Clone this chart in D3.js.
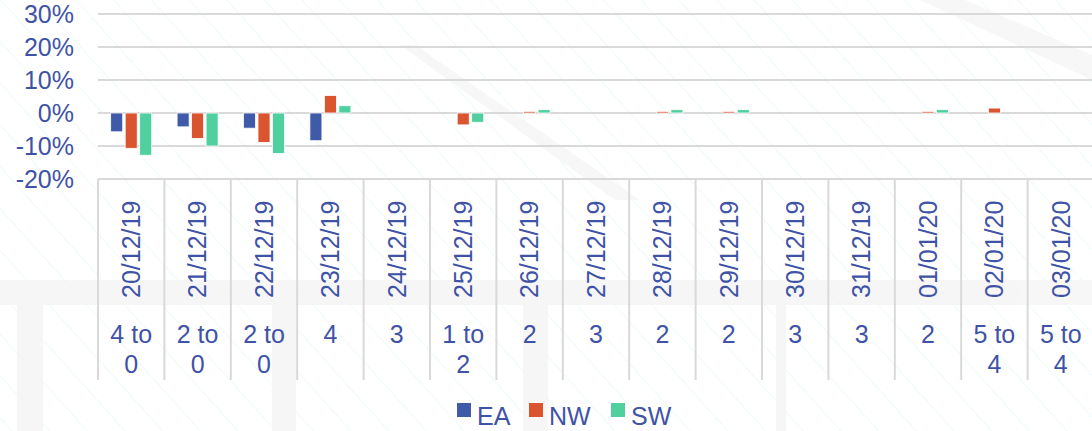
<!DOCTYPE html>
<html>
<head>
<meta charset="utf-8">
<script src="https://cdn.jsdelivr.net/npm/d3@7"></script>
<style>
  body { margin: 0; background: #fff; }
  svg { display: block; font-family: "Liberation Sans", Arial, sans-serif; }
</style>
</head>
<body>
<svg id="chart" width="1092" height="431"></svg>
<script>
// data
const dates = ["20/12/19","21/12/19","22/12/19","23/12/19","24/12/19","25/12/19","26/12/19","27/12/19",
               "28/12/19","29/12/19","30/12/19","31/12/19","01/01/20","02/01/20","03/01/20"];
const levels = [["4 to","0"],["2 to","0"],["2 to","0"],["4"],["3"],["1 to","2"],["2"],["3"],
                ["2"],["2"],["3"],["3"],["2"],["5 to","4"],["5 to","4"]];
const seriesNames = ["EA", "NW", "SW"];
const eaValues = [-5.7, -4.2, -4.6, -8.4, null, null, null, null, null, null, null, null, null, null, null];
const nwValues = [-10.7, -7.7, -8.9, 5.3, null, -3.6, 0.5, null, 0.5, 0.5, null, null, 0.5, 1.5, null];
const swValues = [-12.8, -10.0, -12.3, 2.2, null, -2.8, 1.0, null, 1.0, 1.0, null, null, 1.0, null, null];
const yTicks = [-20, -10, 0, 10, 20, 30];
const colors = ["#3f5aa8", "#d9542f", "#50d09e"];
const textColor = "#3f53a6";

const values = [eaValues, nwValues, swValues];

const svg = d3.select("#chart");

// faint background decoration
const defs = svg.append("defs");
const pat = defs.append("pattern")
  .attr("id", "hatch").attr("patternUnits", "userSpaceOnUse")
  .attr("width", 28).attr("height", 28)
  .attr("patternTransform", "rotate(-42)");
pat.append("line").attr("x1", 0).attr("y1", 0).attr("x2", 0).attr("y2", 28)
  .attr("stroke", "#e3f6f6").attr("stroke-width", 1.2);
svg.append("rect").attr("width", 1092).attr("height", 431).attr("fill", "url(#hatch)");

const deco = svg.append("g").attr("fill", "#f4f4f4").attr("opacity", 0.75);
deco.append("rect").attr("x", 0).attr("y", 280).attr("width", 1092).attr("height", 25);
deco.append("rect").attr("x", 17).attr("y", 305).attr("width", 26).attr("height", 126);
deco.append("rect").attr("x", 272).attr("y", 305).attr("width", 24).attr("height", 126);
deco.append("rect").attr("x", 523).attr("y", 305).attr("width", 25).attr("height", 126);
deco.append("rect").attr("x", 776).attr("y", 305).attr("width", 10).attr("height", 126);
deco.append("polygon").attr("points", "920,0 965,0 1092,55 1092,80");
deco.append("polygon").attr("points", "400,45 415,45 640,200 615,200");

const x0 = d3.scaleBand().domain(dates).range([98, 1094]);
const x1 = d3.scaleBand().domain(seriesNames).range([0, x0.bandwidth()])
  .paddingInner(0.17).paddingOuter(0.875);
const y = d3.scaleLinear().domain([-20, 30]).range([179, 14]);

// gridlines
svg.append("g").selectAll("line").data(yTicks).join("line")
  .attr("x1", 98).attr("x2", 1092)
  .attr("y1", d => y(d)).attr("y2", d => y(d))
  .attr("stroke", "#d9d9d9").attr("stroke-width", 2);

// y tick labels
svg.append("g").selectAll("text").data(yTicks).join("text")
  .attr("x", 74).attr("y", d => y(d) + 9)
  .attr("text-anchor", "end")
  .attr("font-size", 25).attr("fill", textColor)
  .text(d => d + "%");

// bars
const groups = svg.append("g").selectAll("g").data(seriesNames).join("g")
  .attr("fill", (d, i) => colors[i]);
groups.selectAll("rect")
  .data((s, i) => values[i].map((v, j) => ({ s, v, date: dates[j] })).filter(d => d.v !== null))
  .join("rect")
  .attr("x", d => x0(d.date) + x1(d.s))
  .attr("width", x1.bandwidth())
  .attr("y", d => y(Math.max(0, d.v)))
  .attr("height", d => Math.abs(y(d.v) - y(0)))
  .attr("stroke", "#fff").attr("stroke-width", 0.8);

// category separators
const bounds = dates.map(d => x0(d)).concat([x0(dates[dates.length - 1]) + x0.bandwidth()]);
svg.append("g").selectAll("line").data(bounds).join("line")
  .attr("x1", d => d).attr("x2", d => d)
  .attr("y1", 179).attr("y2", 380)
  .attr("stroke", "#d9d9d9").attr("stroke-width", 2);

// date labels (rotated)
svg.append("g").selectAll("text").data(dates).join("text")
  .attr("transform", d => `translate(${x0(d) + x0.bandwidth() / 2},298) rotate(-90)`)
  .attr("text-anchor", "start")
  .attr("dy", "0.35em")
  .attr("font-size", 25).attr("fill", textColor)
  .text(d => d);

// level labels
const lev = svg.append("g").selectAll("text").data(levels).join("text")
  .attr("text-anchor", "middle")
  .attr("font-size", 25).attr("fill", textColor);
lev.selectAll("tspan").data((d, i) => d.map(t => ({ t, i }))).join("tspan")
  .attr("x", d => x0(dates[d.i]) + x0.bandwidth() / 2)
  .attr("y", (d, k) => 343 + k * 30)
  .text(d => d.t);

// legend
const legX = [457, 529, 611];
const leg = svg.append("g").selectAll("g").data(seriesNames).join("g")
  .attr("transform", (d, i) => `translate(${legX[i]},403)`);
leg.append("rect").attr("width", 14).attr("height", 14).attr("fill", (d, i) => colors[i]);
leg.append("text").attr("x", 20).attr("y", 22)
  .attr("font-size", 25).attr("fill", textColor).text(d => d);
</script>
</body>
</html>
